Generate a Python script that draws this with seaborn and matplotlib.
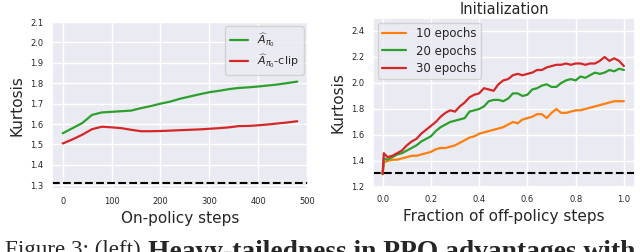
import numpy as np
import pandas as pd
import seaborn as sns
import matplotlib
matplotlib.use("Agg")
import matplotlib.pyplot as plt

# ---------------- data ----------------
onpolicy_steps = [0, 20, 40, 60, 80, 100, 120, 140, 160, 180, 200, 220, 240, 260, 280,
                  300, 320, 340, 360, 380, 400, 420, 440, 460, 480]
kurt_adv = [1.555, 1.580, 1.605, 1.645, 1.657, 1.660, 1.663, 1.666, 1.678, 1.688, 1.700,
            1.710, 1.724, 1.735, 1.746, 1.756, 1.763, 1.771, 1.777, 1.780, 1.784, 1.789,
            1.794, 1.801, 1.808]
kurt_adv_clip = [1.505, 1.525, 1.548, 1.575, 1.587, 1.584, 1.580, 1.572, 1.565, 1.565, 1.566,
                 1.568, 1.570, 1.572, 1.574, 1.577, 1.580, 1.584, 1.590, 1.591, 1.594, 1.598,
                 1.603, 1.608, 1.614]

frac_offpolicy = [0.0, 0.005, 0.02, 0.04, 0.06, 0.08, 0.10, 0.12, 0.14, 0.16, 0.18, 0.20,
                  0.22, 0.24, 0.26, 0.28, 0.30, 0.32, 0.34, 0.36, 0.38, 0.40, 0.42, 0.44,
                  0.46, 0.48, 0.50, 0.52, 0.54, 0.56, 0.58, 0.60, 0.62, 0.64, 0.66, 0.68,
                  0.70, 0.72, 0.74, 0.76, 0.78, 0.80, 0.82, 0.84, 0.86, 0.88, 0.90, 0.92,
                  0.94, 0.96, 0.98, 1.00]
kurt_10ep = [1.30, 1.39, 1.40, 1.41, 1.41, 1.42, 1.43, 1.44, 1.44, 1.45, 1.46, 1.47,
             1.49, 1.50, 1.50, 1.51, 1.52, 1.54, 1.56, 1.58, 1.59, 1.61, 1.62, 1.63,
             1.64, 1.65, 1.66, 1.68, 1.70, 1.69, 1.72, 1.73, 1.74, 1.76, 1.76, 1.73,
             1.77, 1.80, 1.77, 1.77, 1.78, 1.79, 1.79, 1.80, 1.81, 1.82, 1.83, 1.84,
             1.85, 1.86, 1.86, 1.86]
kurt_20ep = [1.30, 1.42, 1.41, 1.43, 1.45, 1.46, 1.48, 1.50, 1.52, 1.55, 1.57, 1.59,
             1.63, 1.66, 1.68, 1.70, 1.71, 1.72, 1.73, 1.78, 1.79, 1.80, 1.82, 1.86,
             1.87, 1.87, 1.86, 1.88, 1.92, 1.92, 1.90, 1.91, 1.95, 1.96, 1.98, 1.99,
             1.97, 1.97, 2.00, 2.02, 2.03, 2.02, 2.05, 2.04, 2.06, 2.08, 2.07, 2.08,
             2.10, 2.09, 2.11, 2.10]
kurt_30ep = [1.30, 1.46, 1.43, 1.44, 1.46, 1.48, 1.52, 1.55, 1.57, 1.61, 1.64, 1.67,
             1.70, 1.74, 1.77, 1.79, 1.78, 1.82, 1.85, 1.89, 1.91, 1.92, 1.96, 1.95,
             1.94, 1.99, 2.02, 2.03, 2.06, 2.07, 2.06, 2.07, 2.08, 2.10, 2.10, 2.12,
             2.13, 2.14, 2.14, 2.15, 2.14, 2.15, 2.15, 2.14, 2.15, 2.15, 2.17, 2.20,
             2.17, 2.19, 2.17, 2.13]

init_kurtosis = 1.31
left_labels = [r"$\widehat{A}_{\pi_0}$", r"$\widehat{A}_{\pi_0}$-clip"]
right_labels = ["10 epochs", "20 epochs", "30 epochs"]
caption_plain = "Figure 3: (left)"
caption_bold = "Heavy-tailedness in PPO advantages with"

# ---------------- style ----------------
sns.set_theme(style="darkgrid")
plt.rcParams["font.family"] = ["DejaVu Sans"]
plt.rcParams["mathtext.fontset"] = "dejavusans"

GREEN = "#2ca02c"
RED = "#d62728"
ORANGE = "#ff7f0e"

fig = plt.figure(figsize=(6.4, 2.52), dpi=100)
axL = fig.add_axes([52 / 640, 1 - 189 / 252, 256 / 640, 167 / 252])
axR = fig.add_axes([373 / 640, 1 - 187 / 252, 262 / 640, 169 / 252])

# Left panel
dfL = pd.DataFrame({"step": onpolicy_steps * 2,
                    "kurt": kurt_adv + kurt_adv_clip,
                    "series": [left_labels[0]] * len(onpolicy_steps) + [left_labels[1]] * len(onpolicy_steps)})
sns.lineplot(data=dfL, x="step", y="kurt", hue="series", palette=[GREEN, RED],
             linewidth=1.6, ax=axL)
axL.axhline(init_kurtosis, color="black", linestyle="--", linewidth=1.5)
axL.set_xlim(-22, 502)
axL.set_ylim(1.282, 2.1)
axL.set_xticks([0, 100, 200, 300, 400, 500])
axL.set_yticks([1.3, 1.4, 1.5, 1.6, 1.7, 1.8, 1.9, 2.0, 2.1])
axL.set_xlabel("On-policy steps", fontsize=11, labelpad=3)
axL.set_ylabel("Kurtosis", fontsize=11, labelpad=4)
axL.legend(loc="upper right", fontsize=8, frameon=True, borderaxespad=0.4,
           labelspacing=0.3, handlelength=1.7)

# Right panel
n = len(frac_offpolicy)
dfR = pd.DataFrame({"frac": frac_offpolicy * 3,
                    "kurt": kurt_10ep + kurt_20ep + kurt_30ep,
                    "series": [right_labels[0]] * n + [right_labels[1]] * n + [right_labels[2]] * n})
sns.lineplot(data=dfR, x="frac", y="kurt", hue="series", palette=[ORANGE, GREEN, RED],
             linewidth=1.6, ax=axR)
axR.axhline(init_kurtosis, color="black", linestyle="--", linewidth=1.5)
axR.set_xlim(-0.04, 1.046)
axR.set_ylim(1.2, 2.5)
axR.set_xticks([0.0, 0.2, 0.4, 0.6, 0.8, 1.0])
axR.set_yticks([1.2, 1.4, 1.6, 1.8, 2.0, 2.2, 2.4])
axR.set_xlabel("Fraction of off-policy steps", fontsize=11, labelpad=3)
axR.set_ylabel("Kurtosis", fontsize=11, labelpad=4)
axR.set_title("Initialization", fontsize=10.5, pad=3)
axR.legend(loc="upper left", fontsize=8.5, frameon=True, borderaxespad=0.4,
           labelspacing=0.35)

for ax in (axL, axR):
    ax.tick_params(axis="both", labelsize=6, pad=6, length=0, colors=".15")

# Caption (partially cut off at the bottom edge, as in the reference)
fig.canvas.draw()
renderer = fig.canvas.get_renderer()
cap_fs = 16
t2 = fig.text(148 / 640, 0, caption_bold, fontsize=cap_fs,
              family="Liberation Serif", weight="bold", va="baseline", ha="left")
bb2 = t2.get_window_extent(renderer)
cap_fs = cap_fs * (637 - 148) / bb2.width
t2.set_fontsize(cap_fs)
cap_px = cap_fs * 100 / 72
base_y = 241 + 0.66 * cap_px
t2.set_position((148 / 640, 1 - base_y / 252))

t1 = fig.text(5 / 640, 0, caption_plain, fontsize=cap_fs,
              family="Liberation Serif", va="baseline", ha="left")
bb1 = t1.get_window_extent(renderer)
plain_fs = cap_fs * (141 - 5) / bb1.width
t1.set_fontsize(plain_fs)
plain_px = plain_fs * 100 / 72
t1.set_position((5 / 640, 1 - (241 + 0.66 * plain_px) / 252))

fig.savefig("out.png", dpi=100)
